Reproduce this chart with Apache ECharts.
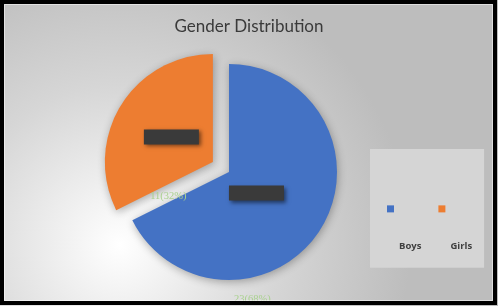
<!DOCTYPE html>
<html><head><meta charset="utf-8">
<script src="https://cdn.jsdelivr.net/npm/echarts@6/dist/echarts.min.js"></script>
<style>html,body{margin:0;padding:0;background:#000}#c{width:498px;height:306px}</style>
</head><body><div id="c"></div>
<script>
const titleText = 'Gender Distribution';
const categories = ['Boys', 'Girls'];
const counts = [23, 11];
const colors = ['#4472C4', '#ED7D31'];

const total = counts.reduce((a, b) => a + b, 0);
const pct = v => Math.round(v / total * 100);

const center = [229, 172];
const radius = 108;

const boxOffsets = [[-21, -9], [7, 5]];
const textOffsets = [[-25, 97], [4, 64]];

const mainData = categories.map((n, i) => ({
  name: n, value: counts[i], selected: i === 1,
  itemStyle: { color: colors[i] },
  label: { offset: boxOffsets[i] },
  select: { label: { offset: boxOffsets[i] } }
}));
const overlayData = categories.map((n, i) => ({
  name: n, value: counts[i], selected: i === 1,
  label: { offset: textOffsets[i] },
  select: { label: { offset: textOffsets[i] } }
}));

const chart = echarts.init(document.getElementById('c'));
chart.setOption({
  animation: false,
  backgroundColor: {
    type: 'radial', x: 0.24, y: 0.8, r: 0.95,
    colorStops: [{ offset: 0, color: '#ffffff' }, { offset: 0.55, color: '#d6d6d6' }, { offset: 1, color: '#bdbdbd' }]
  },
  title: {
    text: titleText, left: 'center', top: 13,
    textStyle: { fontFamily: 'Lato', fontSize: 17, fontWeight: 'normal', color: '#3a3a3a' }
  },
  legend: {
    left: 370, top: 149,
    data: categories,
    orient: 'horizontal',
    icon: 'rect', itemWidth: 7, itemHeight: 7, itemGap: 17,
    backgroundColor: '#d5d5d5',
    padding: [13, 12, 12, 17],
    formatter: n => '\n\n\n\n' + n,
    textStyle: { fontFamily: 'Open Sans', fontSize: 9.5, fontWeight: 'bold', color: '#404040', lineHeight: 18.75 }
  },
  graphic: [
    { type: 'rect', shape: { x: 2, y: 2, width: 493, height: 301 }, style: { fill: 'none', stroke: '#000', lineWidth: 4 }, z: 100 },
    { type: 'rect', shape: { x: 4.5, y: 4.5, width: 488, height: 296 }, style: { fill: 'none', stroke: 'rgba(255,255,255,0.5)', lineWidth: 1 }, z: 100 }
  ],
  series: [
    {
      type: 'pie', center: center, radius: radius, startAngle: 90, clockwise: true,
      selectedMode: 'multiple', selectedOffset: 19,
      itemStyle: { shadowBlur: 8, shadowColor: 'rgba(0,0,0,0.3)', shadowOffsetX: 1, shadowOffsetY: 2 },
      label: {
        show: true, position: 'inside', formatter: ' ',
        backgroundColor: '#3a3a3a', width: 55, height: 15,
        shadowBlur: 4, shadowColor: 'rgba(0,0,0,0.5)', shadowOffsetX: 2, shadowOffsetY: 2
      },
      labelLine: { show: false },
      emphasis: { disabled: true },
      data: mainData
    },
    {
      type: 'pie', center: center, radius: radius, startAngle: 90, clockwise: true,
      selectedMode: 'multiple', selectedOffset: 19, silent: true,
      itemStyle: { color: 'rgba(0,0,0,0)' },
      label: {
        show: true, position: 'inside',
        formatter: p => p.value + '(' + pct(p.value) + '%)',
        fontFamily: 'Liberation Serif', fontSize: 10.5, color: '#a9d18e'
      },
      labelLine: { show: false },
      emphasis: { disabled: true },
      data: overlayData
    }
  ]
});
</script></body></html>
